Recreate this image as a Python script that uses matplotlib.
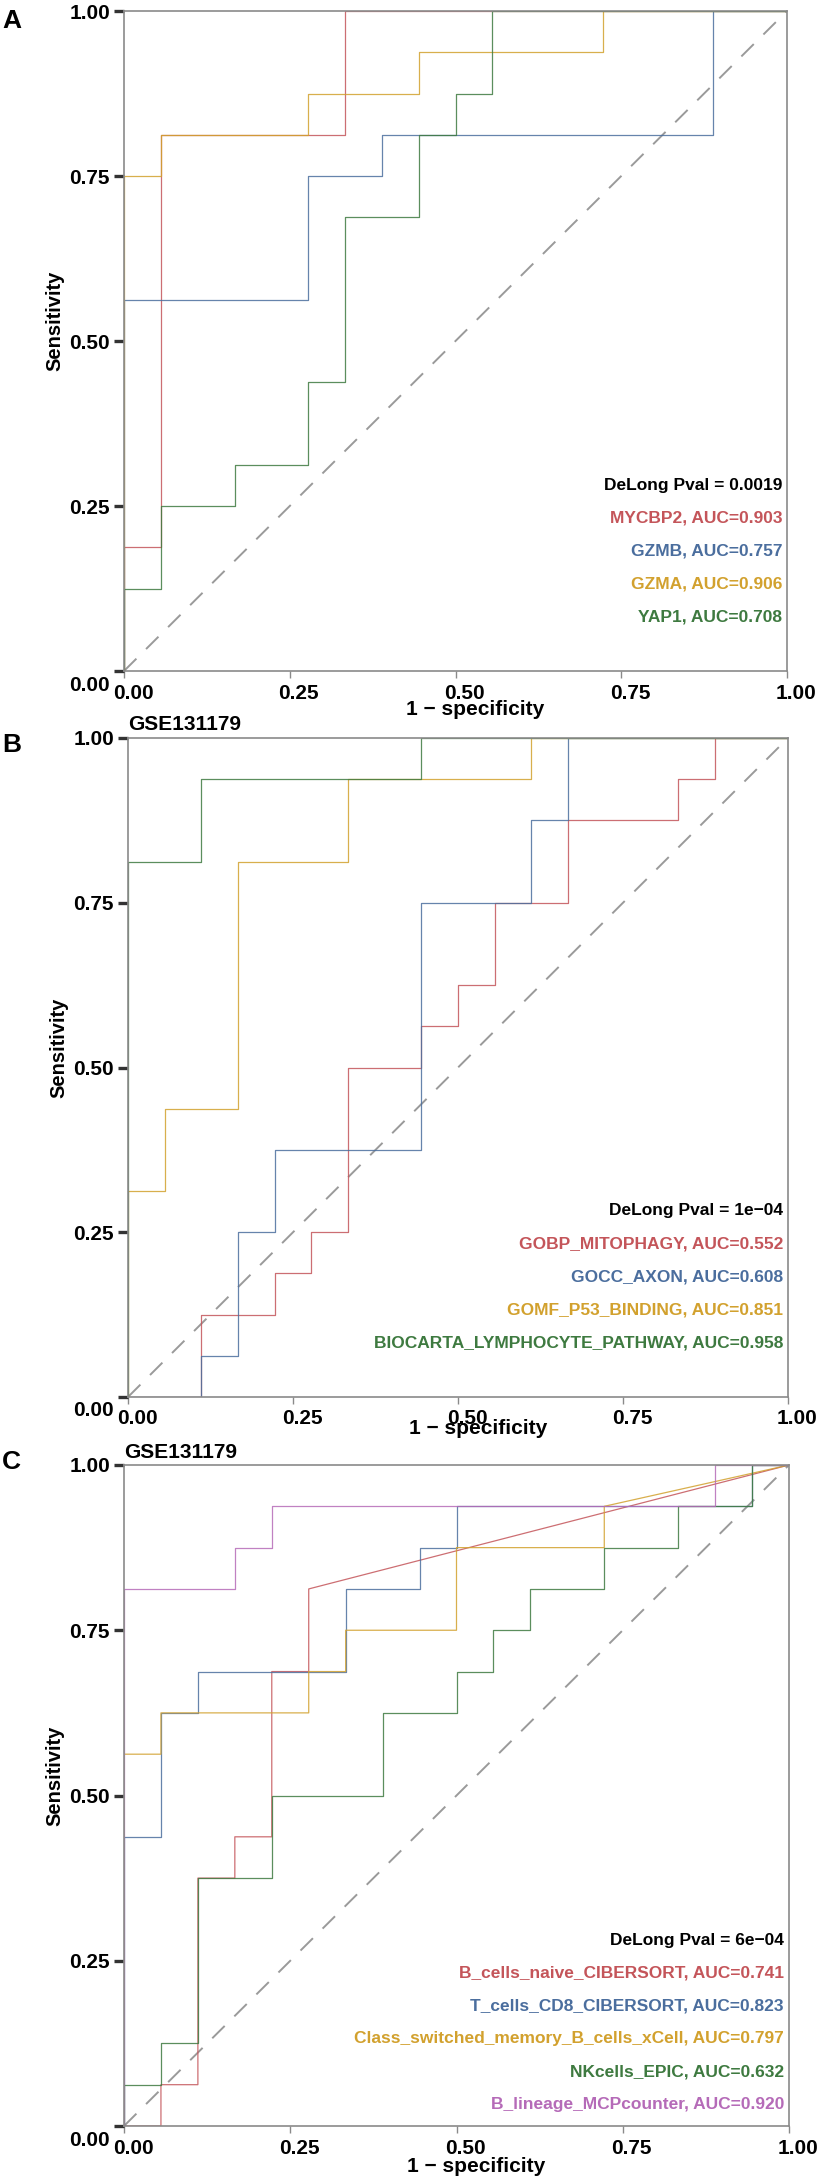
import numpy as np
import matplotlib
matplotlib.use("Agg")
import matplotlib.pyplot as plt
from matplotlib.transforms import ScaledTranslation

plt.rcParams['font.family'] = ['Liberation Sans', 'DejaVu Sans']
plt.rcParams['font.weight'] = 'bold'

# counts of false positives (of 18 controls) / true positives (of 16 cases) at each ROC vertex
N_NEG = 18
N_POS = 16

# --- panel A: genes ---
mycbp2_fp = [0, 0, 1, 1, 6, 6, 18]
mycbp2_tp = [0, 3, 3, 13, 13, 16, 16]
gzmb_fp = [0, 0, 5, 5, 7, 7, 16, 16, 18]
gzmb_tp = [0, 9, 9, 12, 12, 13, 13, 16, 16]
gzma_fp = [0, 0, 1, 1, 5, 5, 8, 8, 13, 13, 18]
gzma_tp = [0, 12, 12, 13, 13, 14, 14, 15, 15, 16, 16]
yap1_fp = [0, 0, 1, 1, 3, 3, 5, 5, 6, 6, 8, 8, 9, 9, 10, 10, 18]
yap1_tp = [0, 2, 2, 4, 4, 5, 5, 7, 7, 11, 11, 13, 13, 14, 14, 16, 16]

# --- panel B: pathways ---
mitophagy_fp = [0, 2, 2, 4, 4, 5, 5, 6, 6, 8, 8, 9, 9, 10, 10, 12, 12, 15, 15, 16, 16, 18]
mitophagy_tp = [0, 0, 2, 2, 3, 3, 4, 4, 8, 8, 9, 9, 10, 10, 12, 12, 14, 14, 15, 15, 16, 16]
axon_fp = [0, 2, 2, 3, 3, 4, 4, 8, 8, 11, 11, 12, 12, 18]
axon_tp = [0, 0, 1, 1, 4, 4, 6, 6, 12, 12, 14, 14, 16, 16]
p53_fp = [0, 0, 1, 1, 3, 3, 6, 6, 11, 11, 18]
p53_tp = [0, 5, 5, 7, 7, 13, 13, 15, 15, 16, 16]
lympho_fp = [0, 0, 2, 2, 8, 8, 18]
lympho_tp = [0, 13, 13, 15, 15, 16, 16]

# --- panel C: immune cells ---
bnaive_fp = [0, 1, 1, 2, 2, 3, 3, 4, 4, 5, 5, 18]
bnaive_tp = [0, 0, 1, 1, 6, 6, 7, 7, 11, 11, 13, 16]
cd8_fp = [0, 0, 1, 1, 2, 2, 6, 6, 8, 8, 9, 9, 17, 17, 18]
cd8_tp = [0, 7, 7, 10, 10, 11, 11, 13, 13, 14, 14, 15, 15, 16, 16]
csm_fp = [0, 0, 1, 1, 5, 5, 6, 6, 9, 9, 13, 13, 18]
csm_tp = [0, 9, 9, 10, 10, 11, 11, 12, 12, 14, 14, 15, 16]
nk_fp = [0, 0, 1, 1, 2, 2, 4, 4, 7, 7, 9, 9, 10, 10, 11, 11, 13, 13, 15, 15, 17, 17, 18]
nk_tp = [0, 1, 1, 2, 2, 6, 6, 8, 8, 10, 10, 11, 11, 12, 12, 13, 13, 14, 14, 15, 15, 16, 16]
blin_fp = [0, 0, 3, 3, 4, 4, 16, 16, 18]
blin_tp = [0, 13, 13, 14, 14, 15, 15, 16, 16]

labels_a = ["MYCBP2, AUC=0.903", "GZMB, AUC=0.757", "GZMA, AUC=0.906", "YAP1, AUC=0.708"]
labels_b = ["GOBP_MITOPHAGY, AUC=0.552", "GOCC_AXON, AUC=0.608",
            "GOMF_P53_BINDING, AUC=0.851", "BIOCARTA_LYMPHOCYTE_PATHWAY, AUC=0.958"]
labels_c = ["B_cells_naive_CIBERSORT, AUC=0.741", "T_cells_CD8_CIBERSORT, AUC=0.823",
            "Class_switched_memory_B_cells_xCell, AUC=0.797", "NKcells_EPIC, AUC=0.632",
            "B_lineage_MCPcounter, AUC=0.920"]
pvals = ["DeLong Pval = 0.0019", "DeLong Pval = 1e\u221204", "DeLong Pval = 6e\u221204"]
ticks = [0.0, 0.25, 0.5, 0.75, 1.0]
tick_labels = ["0.00", "0.25", "0.50", "0.75", "1.00"]

colors = ['#C4555A', '#4B6E9E', '#D2A12E', '#3E7A40', '#B56BB8']

W, H = 823, 2183
fig = plt.figure(figsize=(W / 100, H / 100), dpi=100)


def px_rect(left, right, top, bottom):
    return [left / W, 1 - bottom / H, (right - left) / W, (bottom - top) / H]


panels = [
    dict(rect=px_rect(124, 787, 11, 671), letter="A", letter_y=21, title=None,
         curves=[(mycbp2_fp, mycbp2_tp), (gzmb_fp, gzmb_tp), (gzma_fp, gzma_tp), (yap1_fp, yap1_tp)],
         labels=labels_a, pval=pvals[0], xlab_off=38),
    dict(rect=px_rect(128, 788, 738, 1397), letter="B", letter_y=745, title="GSE131179",
         curves=[(mitophagy_fp, mitophagy_tp), (axon_fp, axon_tp), (p53_fp, p53_tp), (lympho_fp, lympho_tp)],
         labels=labels_b, pval=pvals[1], xlab_off=31),
    dict(rect=px_rect(124, 789, 1465, 2126), letter="C", letter_y=1462, title="GSE131179",
         curves=[(bnaive_fp, bnaive_tp), (cd8_fp, cd8_tp), (csm_fp, csm_tp), (nk_fp, nk_tp), (blin_fp, blin_tp)],
         labels=labels_c, pval=pvals[2], xlab_off=40),
]

for p in panels:
    ax = fig.add_axes(p['rect'])
    ax_h = p['rect'][3] * H

    ax.plot([0, 1], [0, 1], color='#9a9a9a', lw=1.4, dashes=(9, 7))
    for (fp, tp), c in zip(p['curves'], colors):
        ax.plot(np.array(fp) / N_NEG, np.array(tp) / N_POS, color=c, lw=0.9, alpha=0.85)

    ax.set_xlim(0, 1)
    ax.set_ylim(0, 1)
    ax.set_xticks(ticks)
    ax.set_yticks(ticks)
    ax.set_xticklabels(tick_labels, fontsize=15, fontweight='bold')
    ax.set_yticklabels(tick_labels, fontsize=15, fontweight='bold')
    for s in ax.spines.values():
        s.set_color('#8a8a8a')
        s.set_linewidth(1.2)
    ax.tick_params(axis='x', length=5, width=1, color='#8a8a8a', pad=4, labelcolor='black')
    ax.tick_params(axis='y', length=7, width=2.4, color='#333333', pad=3, labelcolor='black')

    # tick label nudges as in the original
    for lab in ax.get_xticklabels():
        lab.set_transform(lab.get_transform() + ScaledTranslation(9 / 100, 0, fig.dpi_scale_trans))
    ylabs = ax.get_yticklabels()
    ylabs[0].set_transform(ylabs[0].get_transform() + ScaledTranslation(0, -12 / 100, fig.dpi_scale_trans))

    ax.set_xlabel("1 \u2212 specificity", fontsize=15, fontweight='bold')
    ax.xaxis.set_label_coords(0.53, -p['xlab_off'] / ax_h)
    ax.xaxis.label.set_va('center')
    ax.set_ylabel("Sensitivity", fontsize=14.5, fontweight='bold')
    ax.yaxis.set_label_coords(-0.104, 0.53)
    ax.yaxis.label.set_va('center')

    if p['title']:
        ax.text(0, 1 + 13 / ax_h, p['title'], transform=ax.transAxes, fontsize=15,
                fontweight='bold', ha='left', va='center')

    fig.text(2 / W, 1 - p['letter_y'] / H, p['letter'], fontsize=19, fontweight='bold',
             ha='left', va='center')

    x_txt = 1 - 5 / (p['rect'][2] * W)
    y0 = 186 / ax_h
    dy = 33 / ax_h
    ax.text(x_txt, y0, p['pval'], transform=ax.transAxes, fontsize=12.5, fontweight='bold',
            color='black', ha='right', va='center')
    for i, (lab, c) in enumerate(zip(p['labels'], colors)):
        ax.text(x_txt, y0 - (i + 1) * dy, lab, transform=ax.transAxes, fontsize=12.5,
                fontweight='bold', color=c, ha='right', va='center')

fig.savefig("out.png", dpi=100)
